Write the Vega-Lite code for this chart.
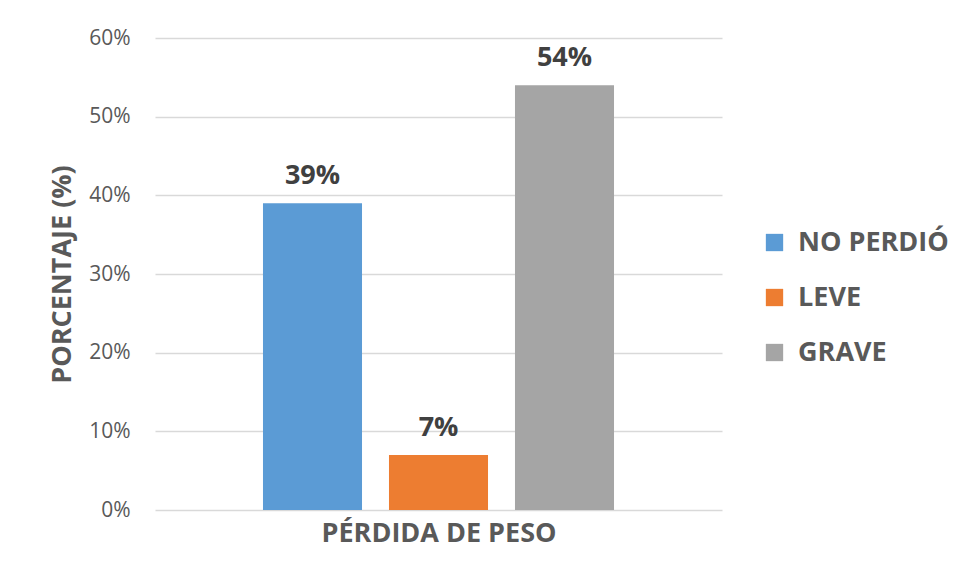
{
  "$schema": "https://vega.github.io/schema/vega-lite/v6.json",
  "autosize": {"type": "none"},
  "padding": {"left": 155, "top": 38, "right": 234, "bottom": 67},
  "width": 567,
  "height": 472,
  "background": "white",
  "config": {
    "view": {"stroke": null},
    "font": "Open Sans"
  },
  "data": {
    "values": [
      {"categoria": "NO PERDIÓ", "porcentaje": 0.39},
      {"categoria": "LEVE", "porcentaje": 0.07},
      {"categoria": "GRAVE", "porcentaje": 0.54}
    ]
  },
  "encoding": {
    "x": {
      "field": "categoria",
      "type": "nominal",
      "sort": ["NO PERDIÓ", "LEVE", "GRAVE"],
      "scale": {"paddingInner": 0.214, "paddingOuter": 0.857},
      "axis": {
        "title": "PÉRDIDA DE PESO",
        "labels": false,
        "ticks": false,
        "domain": false,
        "titleFont": "Open Sans",
        "titleFontSize": 27,
        "titleFontWeight": "bold",
        "titleColor": "#595959",
        "titlePadding": 10
      }
    },
    "y": {
      "field": "porcentaje",
      "type": "quantitative",
      "scale": {"domain": [0, 0.6], "nice": false},
      "axis": {
        "title": "PORCENTAJE (%)",
        "values": [0, 0.1, 0.2, 0.3, 0.4, 0.5, 0.6],
        "format": ".0%",
        "domain": false,
        "ticks": false,
        "labelPadding": 25,
        "labelFont": "Open Sans",
        "labelFontSize": 21,
        "labelColor": "#595959",
        "grid": true,
        "gridColor": "#D9D9D9",
        "gridWidth": 1.5,
        "titleFont": "Open Sans",
        "titleFontSize": 27,
        "titleFontWeight": "bold",
        "titleColor": "#595959",
        "titlePadding": 12
      }
    }
  },
  "layer": [
    {
      "mark": {"type": "bar"},
      "encoding": {
        "color": {
          "field": "categoria",
          "type": "nominal",
          "sort": ["NO PERDIÓ", "LEVE", "GRAVE"],
          "scale": {
            "domain": ["NO PERDIÓ", "LEVE", "GRAVE"],
            "range": ["#5B9BD5", "#ED7D31", "#A5A5A5"]
          },
          "legend": {
            "title": null,
            "orient": "none",
            "legendX": 606,
            "legendY": 191,
            "symbolType": "square",
            "symbolSize": 300,
            "symbolStrokeWidth": 0,
            "labelFont": "Open Sans",
            "labelFontSize": 27,
            "labelFontWeight": "bold",
            "labelColor": "#595959",
            "labelOffset": 10,
            "rowPadding": 27,
            "labelLimit": 300
          }
        }
      }
    },
    {
      "mark": {
        "type": "text",
        "baseline": "alphabetic",
        "dy": -19,
        "font": "Open Sans",
        "fontSize": 27,
        "fontWeight": "bold",
        "color": "#404040"
      },
      "encoding": {
        "text": {"field": "porcentaje", "type": "quantitative", "format": ".0%"}
      }
    }
  ]
}
